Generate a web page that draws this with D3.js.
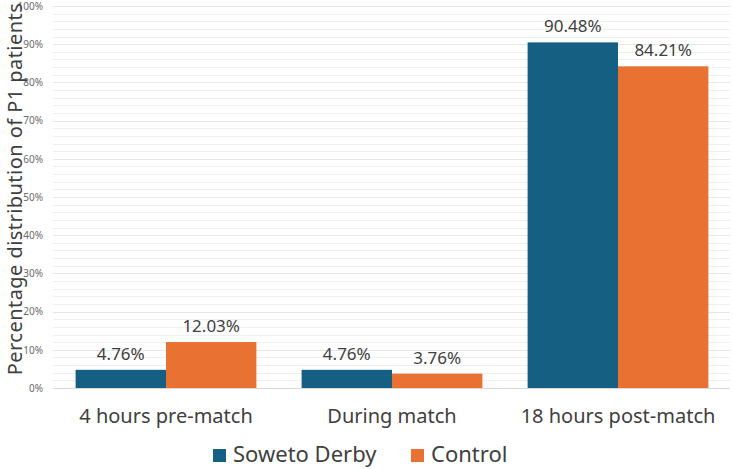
<!DOCTYPE html>
<html><head><meta charset="utf-8">
<script src="https://cdn.jsdelivr.net/npm/d3@7"></script>
<style>body{margin:0;background:#fff}svg{display:block}</style>
</head><body>
<script>
const categories = ["4 hours pre-match", "During match", "18 hours post-match"];
const seriesNames = ["Soweto Derby", "Control"];
const sowetoDerby = [4.76, 4.76, 90.48];
const control = [12.03, 3.76, 84.21];
const yTicks = [0,10,20,30,40,50,60,70,80,90,100];
const colors = ["#156082", "#E97132"];
const font = "'Noto Sans', sans-serif";

const W = 733, H = 469;
const svg = d3.select("body").append("svg").attr("width", W).attr("height", H);
const x = d3.scaleBand().domain(categories).range([53, 731]).paddingInner(0.2).paddingOuter(0.1);
const xs = d3.scaleBand().domain(seriesNames).range([0, x.bandwidth()]);
const y = d3.scaleLinear().domain([0, 100]).range([388, 6]);

const grid = d3.range(0, 101, 2);
svg.append("g").selectAll("line").data(grid).join("line")
  .attr("x1", 53).attr("x2", 730)
  .attr("y1", d => Math.round(y(d)) + 0.5).attr("y2", d => Math.round(y(d)) + 0.5)
  .attr("stroke", d => d === 0 ? "#d9d9d9" : (d % 10 === 0 ? "#e6e6e6" : "#efefef"))
  .attr("stroke-width", 1);

const yAxis = d3.axisLeft(y).tickValues(yTicks).tickFormat(d => d + "%").tickSize(0).tickPadding(0);
const ga = svg.append("g").attr("transform", "translate(43,0)").call(yAxis);
ga.select(".domain").remove();
ga.selectAll("text").attr("font-family", font).attr("font-size", 10).attr("fill", "#6b6b6b");

const data = categories.map((c, i) => ({c, vals: [sowetoDerby[i], control[i]]}));
const groups = svg.append("g").selectAll("g").data(data).join("g")
  .attr("transform", d => `translate(${x(d.c)},0)`);
groups.selectAll("rect").data(d => d.vals.map((v, j) => ({v, s: seriesNames[j], j})))
  .join("rect")
  .attr("x", d => xs(d.s)).attr("width", xs.bandwidth())
  .attr("y", d => y(d.v)).attr("height", d => y(0) - y(d.v))
  .attr("fill", d => colors[d.j]);
groups.selectAll("text.v").data(d => d.vals.map((v, j) => ({v, s: seriesNames[j]})))
  .join("text").attr("class", "v")
  .attr("x", d => xs(d.s) + xs.bandwidth() / 2).attr("y", d => y(d.v) - 10)
  .attr("text-anchor", "middle").attr("font-family", font).attr("font-size", 17).attr("fill", "#404040")
  .text(d => d.v.toFixed(2) + "%");

const xAxis = d3.axisBottom(x).tickSize(0).tickPadding(0);
const gx = svg.append("g").call(xAxis);
gx.select(".domain").remove();
gx.selectAll("text").attr("y", 423).attr("dy", 0)
  .attr("font-family", font).attr("font-size", 20).attr("fill", "#404040");

svg.append("text").attr("transform", "translate(21.5,189) rotate(-90)")
  .attr("text-anchor", "middle").attr("font-family", font).attr("font-size", 20)
  .attr("letter-spacing", 0.45).attr("fill", "#404040")
  .text("Percentage distribution of P1 patients");

const legendX = [213, 411];
const lg = svg.append("g").selectAll("g").data(seriesNames).join("g")
  .attr("transform", (d, i) => `translate(${legendX[i]},449)`);
lg.append("rect").attr("width", 13).attr("height", 13).attr("fill", (d, i) => colors[i]);
lg.append("text").attr("x", 20).attr("y", 13).attr("font-family", font).attr("font-size", 22).attr("fill", "#404040").text(d => d);
</script>
</body></html>
